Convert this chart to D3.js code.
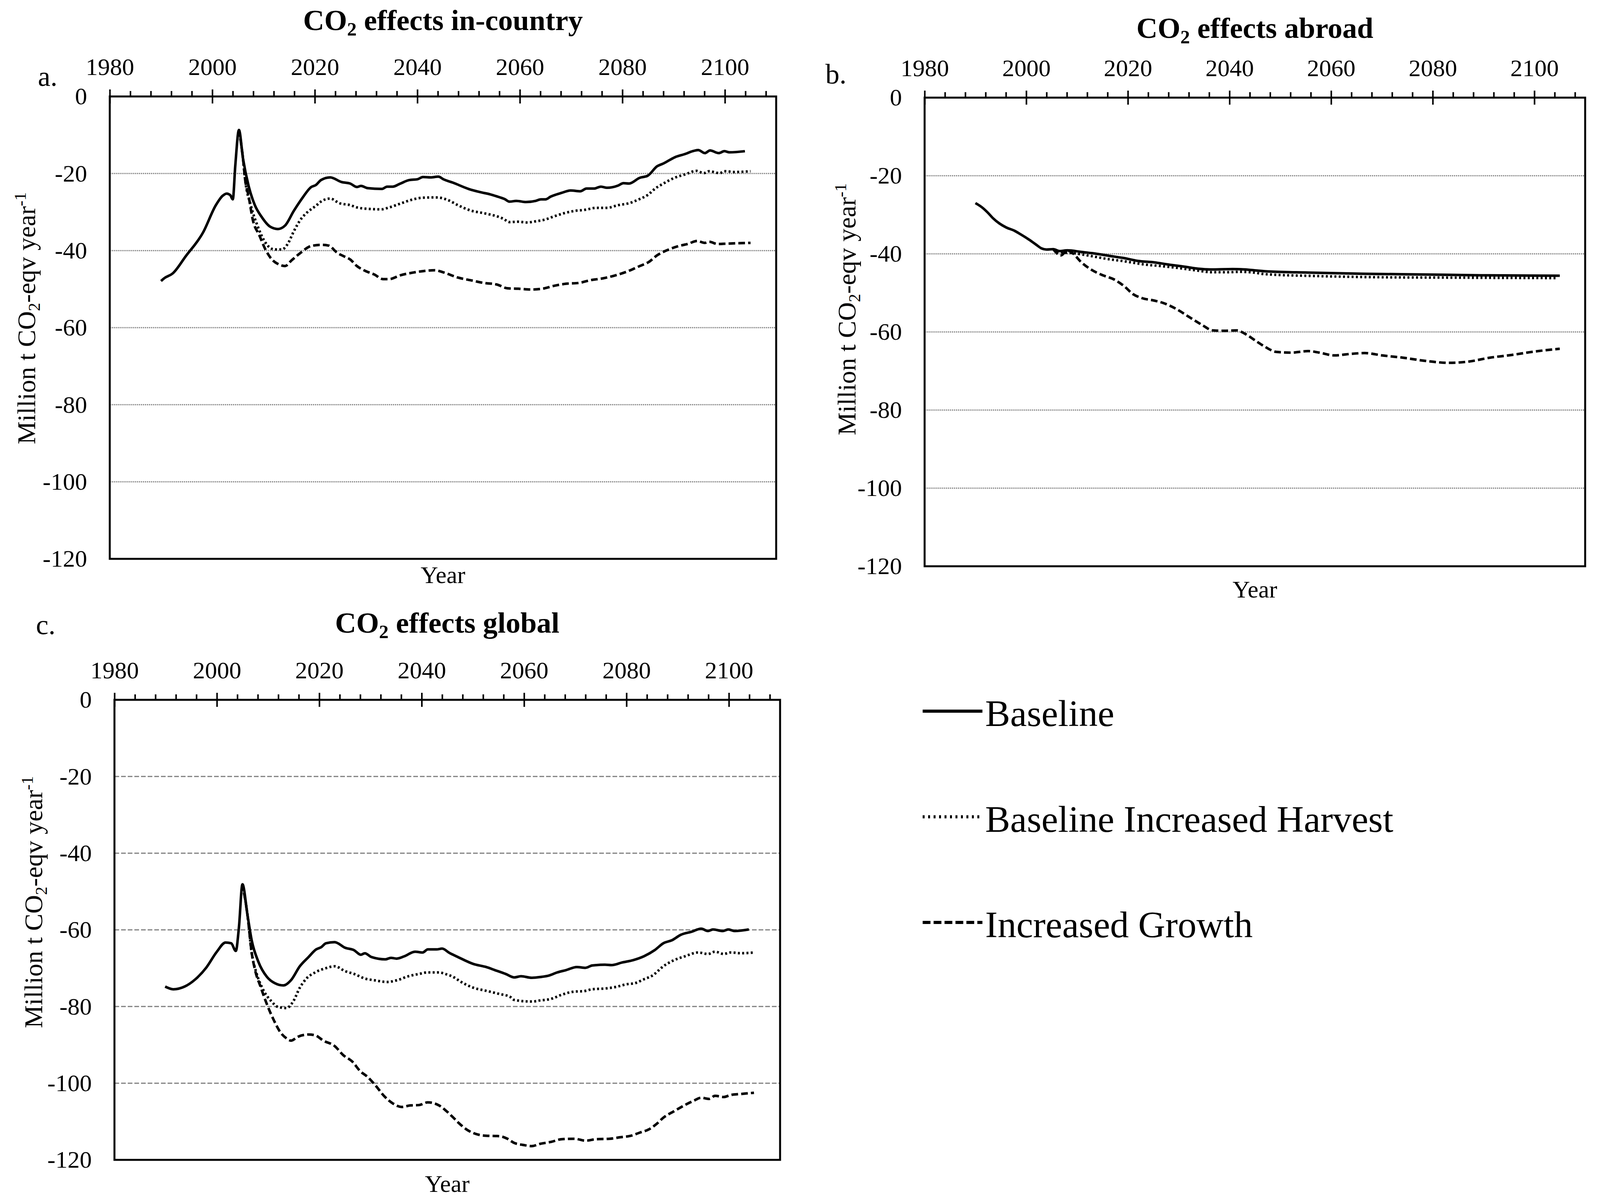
<!DOCTYPE html>
<html>
<head>
<meta charset="utf-8">
<script src="https://cdn.jsdelivr.net/npm/d3@7"></script>
<style>
  body { margin: 0; background: #fff; }
  text { font-family: "Liberation Serif", "Times New Roman", serif; fill: #000; }
</style>
</head>
<body>
<div id="chart"></div>
<script>
// year ticks on the top axis
var majorYears = [1980, 2000, 2020, 2040, 2060, 2080, 2100];
var yTicks = [0, -20, -40, -60, -80, -100, -120];
var seriesNames = ["Baseline", "Baseline Increased Harvest", "Increased Growth"];

// a. in-country
var aBase = [[1990.0,-47.9],[1990.6,-47.2],[1992.3,-45.9],[1994.8,-41.5],[1998.2,-35.3],[2000.7,-28.2],[2002.0,-25.8],[2002.8,-25.2],[2003.5,-25.6],[2004.0,-26.7],[2004.5,-17.7],[2005.2,-8.7],[2006.0,-16.2],[2007.1,-23.3],[2008.3,-28.2],[2009.6,-31.2],[2011.3,-33.8],[2012.8,-34.4],[2014.2,-33.5],[2015.9,-29.7],[2017.6,-26.3],[2019.3,-23.5],[2020.2,-23.0],[2021.2,-21.7],[2023.0,-21.0],[2025.2,-22.2],[2026.9,-22.6],[2028.2,-23.5],[2029.0,-23.2],[2030.3,-23.8],[2033.1,-24.0],[2034.1,-23.4],[2035.2,-23.4],[2036.7,-22.6],[2038.4,-21.7],[2040.0,-21.5],[2041.1,-20.9],[2042.6,-21.0],[2044.1,-20.8],[2045.1,-21.5],[2047.0,-22.4],[2050.0,-24.0],[2052.5,-24.9],[2054.2,-25.4],[2055.9,-26.1],[2057.0,-26.6],[2058.0,-27.3],[2059.3,-27.1],[2061.2,-27.4],[2063.1,-27.1],[2064.1,-26.7],[2065.0,-26.7],[2066.0,-26.0],[2068.2,-25.0],[2069.9,-24.4],[2071.8,-24.6],[2073.0,-23.9],[2074.5,-23.9],[2075.8,-23.4],[2077.0,-23.7],[2079.2,-23.1],[2080.2,-22.5],[2081.3,-22.6],[2083.4,-21.1],[2084.9,-20.6],[2086.8,-18.1],[2088.0,-17.4],[2090.2,-15.8],[2092.3,-14.9],[2093.7,-14.2],[2094.8,-13.9],[2096.1,-14.7],[2097.1,-14.0],[2098.8,-14.7],[2099.9,-14.2],[2100.9,-14.5],[2103.9,-14.2]];
var aHarv = [[2005.2,-8.7],[2006.0,-16.2],[2006.4,-21.5],[2007.5,-28.2],[2008.8,-33.5],[2010.4,-38.0],[2012.1,-39.7],[2013.6,-39.7],[2014.7,-38.3],[2015.9,-35.0],[2017.2,-32.0],[2018.5,-30.1],[2020.2,-28.4],[2021.4,-27.1],[2023.0,-26.5],[2024.8,-27.7],[2026.9,-28.2],[2028.2,-28.8],[2030.7,-29.2],[2032.9,-29.3],[2034.5,-28.8],[2036.7,-27.8],[2039.2,-26.7],[2040.9,-26.3],[2043.4,-26.2],[2044.5,-26.3],[2046.0,-26.9],[2047.9,-28.2],[2050.4,-29.6],[2053.0,-30.3],[2055.5,-31.1],[2056.7,-31.7],[2058.0,-32.6],[2059.7,-32.5],[2061.4,-32.7],[2063.1,-32.4],[2064.8,-32.0],[2066.5,-31.2],[2068.6,-30.3],[2070.7,-29.7],[2072.8,-29.4],[2074.9,-28.9],[2077.0,-28.9],[2079.2,-28.2],[2081.3,-27.7],[2083.4,-26.6],[2084.9,-25.6],[2086.4,-23.9],[2088.0,-22.6],[2090.2,-21.1],[2092.3,-20.2],[2094.4,-19.3],[2095.9,-19.9],[2096.9,-19.4],[2099.0,-19.9],[2099.9,-19.4],[2102.0,-19.6],[2105.0,-19.4]];
var aGrow = [[2005.2,-8.7],[2006.0,-16.2],[2006.4,-21.5],[2007.1,-26.0],[2007.9,-32.0],[2009.2,-36.1],[2010.4,-39.8],[2011.5,-42.1],[2013.0,-43.6],[2014.2,-44.0],[2015.5,-42.5],[2017.2,-40.6],[2019.3,-38.8],[2021.4,-38.5],[2022.7,-38.7],[2024.4,-40.6],[2025.7,-41.5],[2026.9,-42.3],[2028.2,-44.0],[2029.9,-45.3],[2031.6,-46.2],[2033.3,-47.4],[2034.5,-47.4],[2036.7,-46.4],[2039.2,-45.7],[2041.3,-45.3],[2043.4,-45.1],[2045.2,-45.7],[2047.9,-47.0],[2050.4,-47.7],[2053.0,-48.4],[2055.5,-48.8],[2057.6,-49.8],[2059.7,-49.9],[2062.2,-50.1],[2064.4,-49.9],[2066.5,-49.2],[2069.0,-48.6],[2071.5,-48.4],[2073.7,-47.7],[2076.2,-47.2],[2078.7,-46.4],[2080.8,-45.5],[2083.4,-44.0],[2085.1,-43.0],[2086.8,-41.2],[2088.9,-39.8],[2091.0,-38.8],[2092.7,-38.3],[2094.6,-37.5],[2096.1,-38.0],[2096.9,-37.7],[2098.6,-38.3],[2100.3,-38.2],[2102.4,-38.1],[2105.0,-38.0]];

// b. abroad
var bBase = [[1990.0,-27.0],[1991.3,-28.1],[1992.4,-29.4],[1993.4,-30.8],[1994.7,-32.2],[1996.0,-33.2],[1997.7,-34.1],[1998.9,-35.0],[2000.6,-36.4],[2001.9,-37.6],[2003.0,-38.6],[2004.0,-38.9],[2005.3,-38.8],[2006.6,-39.3],[2008.1,-39.1],[2010.8,-39.5],[2013.4,-39.9],[2016.3,-40.5],[2019.3,-41.1],[2021.9,-41.8],[2025.3,-42.2],[2027.8,-42.7],[2031.2,-43.3],[2033.8,-43.8],[2036.3,-44.0],[2040.6,-43.9],[2043.1,-44.0],[2045.6,-44.3],[2047.5,-44.5],[2055.5,-44.8],[2066.2,-45.1],[2078.9,-45.3],[2089.5,-45.5],[2105.0,-45.6]];
var bHarv = [[2005.3,-38.8],[2006.6,-39.6],[2009.1,-39.8],[2012.5,-40.5],[2015.9,-41.3],[2019.3,-41.9],[2023.1,-42.7],[2027.0,-43.2],[2030.4,-43.7],[2033.8,-44.3],[2036.3,-44.7],[2039.7,-44.7],[2042.3,-44.6],[2044.8,-44.8],[2047.0,-45.2],[2057.7,-45.7],[2070.4,-46.0],[2085.3,-46.1],[2104.4,-46.2]];
var bGrow = [[2005.3,-38.8],[2006.8,-40.4],[2008.1,-39.2],[2009.1,-39.8],[2010.8,-42.1],[2013.0,-44.2],[2015.1,-45.5],[2017.2,-46.5],[2019.3,-48.3],[2021.0,-50.3],[2022.7,-51.3],[2025.3,-52.0],[2027.0,-52.6],[2029.5,-54.1],[2032.1,-56.2],[2034.6,-58.2],[2036.7,-59.6],[2038.9,-59.7],[2041.4,-59.6],[2043.1,-60.5],[2045.2,-62.3],[2047.0,-63.8],[2049.2,-65.1],[2052.1,-65.3],[2055.5,-64.9],[2057.7,-65.3],[2060.6,-66.0],[2064.0,-65.6],[2066.6,-65.4],[2070.0,-66.0],[2074.2,-66.6],[2078.5,-67.4],[2083.1,-67.9],[2087.0,-67.6],[2091.2,-66.6],[2095.5,-65.9],[2100.1,-65.0],[2105.0,-64.3]];

// c. global
var cBase = [[1989.9,-74.8],[1991.5,-75.5],[1993.7,-74.8],[1995.8,-72.9],[1997.9,-69.9],[2000.0,-65.7],[2001.7,-63.3],[2002.8,-63.5],[2003.7,-65.5],[2004.3,-59.5],[2005.0,-48.1],[2006.0,-56.3],[2006.8,-62.7],[2008.1,-68.3],[2009.8,-72.3],[2011.3,-73.9],[2013.0,-74.5],[2014.5,-73.1],[2016.2,-69.5],[2017.9,-67.1],[2019.4,-65.1],[2020.4,-64.5],[2021.3,-63.5],[2023.0,-63.2],[2025.1,-64.7],[2026.8,-65.3],[2028.1,-66.5],[2028.9,-66.1],[2030.2,-67.1],[2032.9,-67.7],[2034.0,-67.3],[2035.1,-67.5],[2036.6,-66.9],[2038.7,-65.7],[2040.2,-65.9],[2041.2,-65.1],[2042.9,-65.1],[2044.0,-64.9],[2045.4,-66.0],[2047.1,-67.1],[2050.1,-68.9],[2052.6,-69.7],[2054.3,-70.5],[2056.4,-71.5],[2058.1,-72.4],[2059.4,-72.1],[2061.5,-72.5],[2063.2,-72.3],[2064.9,-71.9],[2066.5,-71.1],[2068.2,-70.5],[2070.3,-69.7],[2072.0,-69.9],[2073.3,-69.3],[2075.8,-69.1],[2077.1,-69.2],[2079.2,-68.5],[2081.3,-67.9],[2083.4,-66.9],[2085.5,-65.3],[2087.2,-63.5],[2088.9,-62.7],[2090.6,-61.3],[2092.7,-60.5],[2094.6,-59.7],[2095.9,-60.3],[2096.9,-59.9],[2098.8,-60.3],[2099.9,-59.9],[2101.1,-60.3],[2103.9,-59.9]];
var cHarv = [[2005.0,-48.1],[2006.0,-56.3],[2006.8,-66.0],[2007.7,-71.1],[2009.0,-75.5],[2010.7,-78.7],[2011.9,-80.1],[2013.6,-80.4],[2014.9,-78.7],[2016.2,-75.1],[2017.5,-72.7],[2019.2,-71.1],[2021.3,-70.0],[2023.0,-69.5],[2025.1,-70.8],[2026.8,-71.5],[2028.9,-72.7],[2031.0,-73.2],[2033.2,-73.6],[2035.3,-73.1],[2037.4,-72.1],[2039.5,-71.5],[2041.2,-71.1],[2043.4,-71.1],[2044.6,-71.5],[2046.2,-72.3],[2047.6,-73.5],[2050.1,-75.1],[2052.6,-75.9],[2055.1,-76.7],[2057.3,-77.5],[2058.1,-78.3],[2061.5,-78.7],[2063.2,-78.4],[2065.3,-78.0],[2067.4,-76.9],[2069.9,-76.1],[2071.6,-76.0],[2073.3,-75.5],[2075.8,-75.3],[2077.9,-74.9],[2080.0,-74.2],[2081.7,-73.9],[2083.4,-72.9],[2085.1,-71.9],[2087.2,-69.5],[2089.3,-67.9],[2091.4,-66.9],[2094.0,-65.9],[2095.9,-66.3],[2097.3,-65.7],[2099.0,-66.3],[2100.3,-65.9],[2102.4,-66.1],[2104.9,-65.9]];
var cGrow = [[2005.0,-48.1],[2006.0,-56.3],[2006.8,-65.9],[2007.5,-70.7],[2008.5,-74.7],[2009.8,-79.5],[2011.1,-83.5],[2012.4,-86.7],[2013.6,-88.3],[2014.5,-88.9],[2015.8,-87.9],[2017.9,-87.3],[2019.2,-87.5],[2020.8,-88.9],[2023.0,-90.3],[2024.7,-92.7],[2026.4,-94.3],[2028.1,-97.0],[2029.3,-98.2],[2031.0,-100.6],[2032.7,-103.4],[2034.4,-105.3],[2036.1,-106.2],[2037.8,-105.8],[2039.5,-105.7],[2041.2,-105.0],[2043.4,-105.8],[2044.6,-107.0],[2046.2,-109.0],[2047.1,-110.2],[2048.8,-112.1],[2050.5,-113.2],[2052.6,-113.7],[2055.1,-113.8],[2056.6,-114.4],[2058.1,-115.6],[2059.8,-116.1],[2061.5,-116.4],[2063.2,-115.8],[2065.3,-115.3],[2067.4,-114.6],[2069.9,-114.5],[2072.0,-115.0],[2074.1,-114.6],[2076.7,-114.5],[2078.8,-114.1],[2080.9,-113.7],[2082.6,-112.9],[2084.3,-112.1],[2085.9,-110.6],[2087.2,-109.0],[2089.3,-107.3],[2091.4,-105.7],[2093.1,-104.6],[2094.6,-103.8],[2096.1,-104.1],[2097.3,-103.3],[2099.0,-103.6],[2100.3,-103.1],[2102.4,-102.8],[2104.9,-102.5]];

var width = 4119, height = 3083;
var lineDash = [null, "5,6", "17,8"];

// panel layout (pixel boxes of the plot areas)
var panels = [
  {tag: "a.", title: " effects in-country", L: 281, R: 1987, T: 247, B: 1431, data: [aBase, aHarv, aGrow],
   grid: "3,2", titleY: 77, tagX: 97, tagY: 220, yearY: 62, ytX: 90, ytY: 815},
  {tag: "b.", title: " effects abroad", L: 2367, R: 4058, T: 250, B: 1450, data: [bBase, bHarv, bGrow],
   grid: "3,2", titleY: 97, tagX: 2113, tagY: 214, yearY: 80, ytX: 2190, ytY: 792},
  {tag: "c.", title: " effects global", L: 293, R: 1997, T: 1792, B: 2970, data: [cBase, cHarv, cGrow],
   grid: "12,5", titleY: 1620, tagX: 92, tagY: 1624, yearY: 82, ytX: 108, ytY: 2310}
];

var svg = d3.select("#chart").append("svg")
  .attr("width", width).attr("height", height)
  .style("background", "#fff");

function drawPanel(p){
  var x = d3.scaleLinear().domain([1980, 2110]).range([p.L, p.R]);
  var y = d3.scaleLinear().domain([-120, 0]).range([p.B, p.T]);
  var g = svg.append("g");

  // gridlines
  g.selectAll(".grid").data(yTicks.filter(function(d){ return d < 0 && d > -120; }))
    .enter().append("line")
    .attr("x1", p.L).attr("x2", p.R)
    .attr("y1", function(d){ return y(d); }).attr("y2", function(d){ return y(d); })
    .attr("stroke", "#808080").attr("stroke-width", 3)
    .attr("stroke-dasharray", p.grid);

  // y labels
  var yAxis = g.append("g").attr("transform", "translate(" + p.L + ",0)")
    .call(d3.axisLeft(y).tickValues(yTicks).tickSize(0).tickPadding(58)
      .tickFormat(function(d){ return String(d); }));
  yAxis.select(".domain").remove();
  yAxis.selectAll("text").style("font-size", "62px").attr("font-family", null);

  // minor ticks every 4 years
  var minor = d3.range(1984, 2110, 4).filter(function(d){ return majorYears.indexOf(d) < 0; });
  var minorAxis = g.append("g").attr("transform", "translate(0," + p.T + ")")
    .call(d3.axisTop(x).tickValues(minor).tickSize(14).tickSizeOuter(0).tickFormat(""));
  minorAxis.select(".domain").remove();
  minorAxis.selectAll("line").attr("stroke-width", 4);

  // major ticks cross the axis
  var majorAxis = g.append("g").attr("transform", "translate(0," + p.T + ")")
    .call(d3.axisTop(x).tickValues(majorYears).tickSize(18).tickSizeOuter(0).tickPadding(0)
      .tickFormat(d3.format("d")));
  majorAxis.select(".domain").remove();
  majorAxis.selectAll("line").attr("y1", 18).attr("stroke-width", 4);
  majorAxis.selectAll("text").attr("y", -55).attr("dy", 0)
    .style("font-size", "62px").attr("font-family", null);

  // frame
  g.append("rect").attr("x", p.L).attr("y", p.T)
    .attr("width", p.R - p.L).attr("height", p.B - p.T)
    .attr("fill", "none").attr("stroke", "#000").attr("stroke-width", 5);

  // series
  var line = d3.line()
    .x(function(d){ return x(d[0]); })
    .y(function(d){ return y(d[1]); })
    .curve(d3.curveMonotoneX);
  p.data.forEach(function(s, i){
    g.append("path").datum(s)
      .attr("d", line)
      .attr("fill", "none").attr("stroke", "#000")
      .attr("stroke-width", 6.5)
      .attr("stroke-linejoin", "round")
      .attr("stroke-dasharray", lineDash[i]);
  });

  // title with subscript
  var t = g.append("text").attr("x", (p.L + p.R) / 2).attr("y", p.titleY)
    .attr("text-anchor", "middle").style("font-size", "75px").style("font-weight", "bold");
  t.append("tspan").text("CO");
  t.append("tspan").text("2").style("font-size", "49px").attr("dy", 14);
  t.append("tspan").text(p.title).attr("dy", -14);

  g.append("text").attr("x", p.tagX).attr("y", p.tagY)
    .style("font-size", "72px").text(p.tag);

  // y title
  var yt = g.append("text")
    .attr("transform", "translate(" + p.ytX + "," + p.ytY + ") rotate(-90)")
    .attr("text-anchor", "middle").style("font-size", "66px");
  yt.append("tspan").text("Million t CO");
  yt.append("tspan").text("2").style("font-size", "43px").attr("dy", 12);
  yt.append("tspan").text("-eqv year").attr("dy", -12);
  yt.append("tspan").text("-1").style("font-size", "43px").attr("dy", -24);

  g.append("text").attr("x", (p.L + p.R) / 2).attr("y", p.B + p.yearY)
    .attr("text-anchor", "middle").style("font-size", "62px").text("Year");
}

panels.forEach(drawPanel);

// legend
var legY = d3.scalePoint().domain(seriesNames).range([1821, 2362]);
var leg = svg.append("g");
seriesNames.forEach(function(name, i){
  leg.append("line")
    .attr("x1", 2362).attr("x2", 2515)
    .attr("y1", legY(name)).attr("y2", legY(name))
    .attr("stroke", "#000").attr("stroke-width", 8)
    .attr("stroke-dasharray", i === 1 ? "5,9" : (i === 2 ? "20,8" : null));
  leg.append("text").attr("x", 2522).attr("y", legY(name) + 38)
    .style("font-size", "96px").text(name);
});
</script>
</body>
</html>
